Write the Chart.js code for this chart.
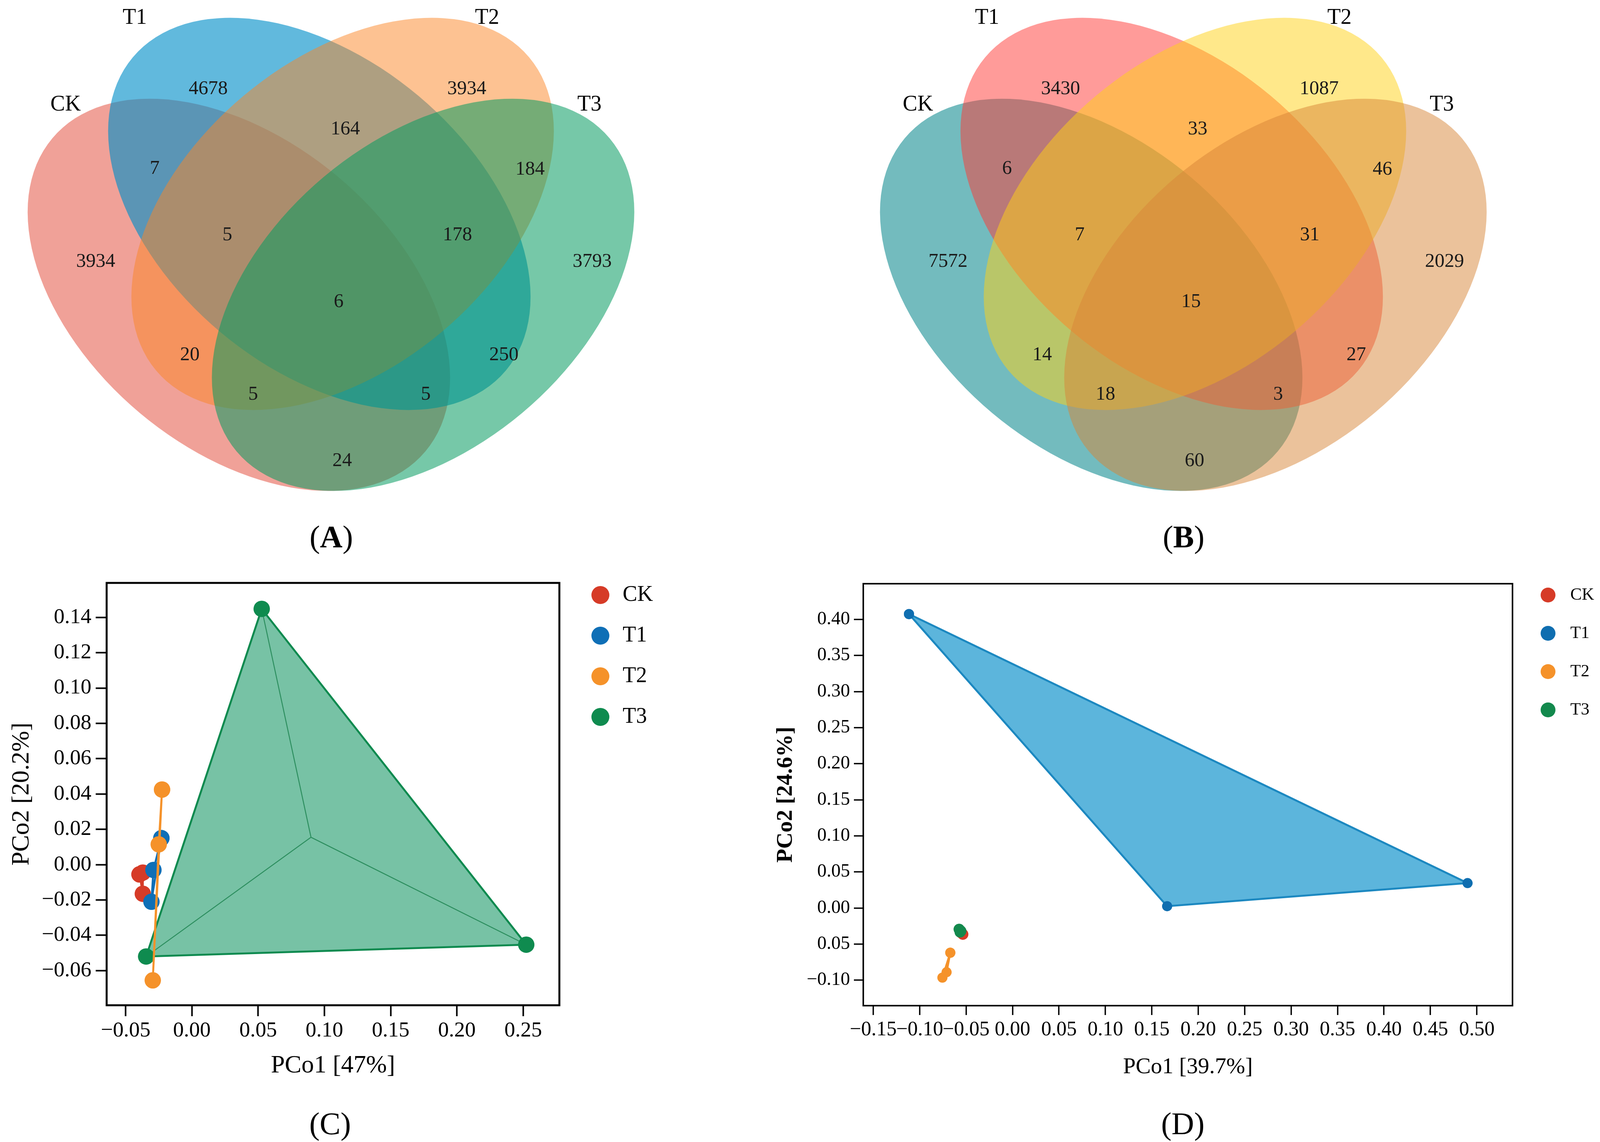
<!DOCTYPE html>
<html>
<head>
<meta charset="utf-8">
<script src="https://cdn.jsdelivr.net/npm/chart.js@4.4.1/dist/chart.umd.min.js"></script>
<style>
html,body{margin:0;padding:0;background:#fff;}
#page{position:relative;width:4100px;height:2923px;overflow:hidden;background:#fff;}
canvas{position:absolute;}
.lab{position:absolute;font-family:'Liberation Serif','Times New Roman',serif;font-size:80px;line-height:1;transform:translate(-50%,-50%);white-space:nowrap;color:#000;}
</style>
</head>
<body>
<div id="page">
  <canvas id="vennA" width="1720" height="1300" style="left:0px;top:0px;width:1720px;height:1300px"></canvas>
  <canvas id="vennB" width="1720" height="1300" style="left:2182px;top:0px;width:1720px;height:1300px"></canvas>
  <canvas id="pcoaC" width="1750" height="1400" style="left:0px;top:1400px;width:1750px;height:1400px"></canvas>
  <canvas id="pcoaD" width="2150" height="1400" style="left:1950px;top:1400px;width:2150px;height:1400px"></canvas>
  <div class="lab" style="left:848px;top:1374px">(<b>A</b>)</div>
  <div class="lab" style="left:3030px;top:1374px">(<b>B</b>)</div>
  <div class="lab" style="left:845px;top:2876px">(C)</div>
  <div class="lab" style="left:3028px;top:2876px">(D)</div>
</div>
<script>
// ---------------- DATA ----------------
const SET_NAMES = ['CK', 'T1', 'T2', 'T3'];
// Venn regions: CK, T1, T2, T3, CK∩T1, T1∩T2, T2∩T3, CK∩T1∩T2, T1∩T2∩T3, all four,
//               CK∩T2, T1∩T3, CK∩T2∩T3, CK∩T1∩T3, CK∩T3
const vennValuesA = [3934, 4678, 3934, 3793, 7, 164, 184, 5, 178, 6, 20, 250, 5, 5, 24];
const vennValuesB = [7572, 3430, 1087, 2029, 6, 33, 46, 7, 31, 15, 14, 27, 18, 3, 60];

// PCoA (C)
const cCK = [[-0.0395, -0.0055], [-0.037, -0.0045], [-0.037, -0.0165]];
const cT1 = [[-0.023, 0.015], [-0.029, -0.003], [-0.0305, -0.021]];
const cT2 = [[-0.0225, 0.0425], [-0.025, 0.0115], [-0.0295, -0.0655]];
const cT3 = [[0.0527, 0.1448], [0.2523, -0.0453], [-0.0345, -0.052]];
const cT3Centre = [0.0899, 0.0155];
const cXTicks = [-0.05, 0, 0.05, 0.10, 0.15, 0.20, 0.25];
const cXLabels = ['\u22120.05', '0.00', '0.05', '0.10', '0.15', '0.20', '0.25'];
const cYTicks = [-0.06, -0.04, -0.02, 0, 0.02, 0.04, 0.06, 0.08, 0.10, 0.12, 0.14];
const cYLabels = ['\u22120.06', '\u22120.04', '\u22120.02', '0.00', '0.02', '0.04', '0.06', '0.08', '0.10', '0.12', '0.14'];

// PCoA (D)
const dCK = [[-0.0535, -0.0365], [-0.0555, -0.0345], [-0.0545, -0.035]];
const dT1 = [[-0.1115, 0.4075], [0.1665, 0.0025], [0.49, 0.0345]];
const dT2 = [[-0.067, -0.062], [-0.071, -0.089], [-0.0755, -0.0965]];
const dT3 = [[-0.0575, -0.0295], [-0.0565, -0.0335], [-0.0555, -0.032]];
const dXTicks = [-0.15, -0.10, -0.05, 0, 0.05, 0.10, 0.15, 0.20, 0.25, 0.30, 0.35, 0.40, 0.45, 0.50];
const dXLabels = ['\u22120.15', '\u22120.10', '\u22120.05', '0.00', '0.05', '0.10', '0.15', '0.20', '0.25', '0.30', '0.35', '0.40', '0.45', '0.50'];
const dYTicks = [-0.10, -0.05, 0, 0.05, 0.10, 0.15, 0.20, 0.25, 0.30, 0.35, 0.40];
const dYLabels = ['\u22120.10', '0.05', '0.00', '0.05', '0.10', '0.15', '0.20', '0.25', '0.30', '0.35', '0.40'];

// ---------------- LAYOUT / STYLE ----------------
const SERIF = "'Liberation Serif', 'Times New Roman', serif";
const VENN_W = 1720, VENN_H = 1300;
const ELL_CX = [611.5, 817.5, 877.1, 1083.1];
const ELL_CY = [754.6, 547.5, 547.5, 754.6];
const ELL_A = 623.4, ELL_B = 394.6;
const ELL_ROT = [40, 40, -40, -40];
const REGION_POS = [[245, 670], [533, 228], [1195, 228], [1516, 670], [396, 432], [884, 331], [1357, 434],
  [582, 602], [1171, 602], [867, 773], [486, 909], [1290, 909], [648, 1010], [1090, 1010], [876, 1180]];
const SET_LABEL_POS = [[168, 268], [345, 46], [1247, 46], [1509, 268]];
const vennColorsA = ['rgb(225,67,49)', 'rgb(0,142,200)', 'rgb(251,133,37)', 'rgb(6,155,97)'];
const vennAlphaA = [0.5, 0.62, 0.5, 0.55];
const vennColorsB = ['rgb(0,131,137)', 'rgb(255,55,51)', 'rgb(255,209,21)', 'rgb(215,133,55)'];
const vennAlphaB = [0.55, 0.5, 0.5, 0.5];
const GROUP_COL = ['#D63B27', '#0F6FB6', '#F5922A', '#0F8B4F'];

Chart.defaults.font.family = SERIF;
Chart.defaults.color = '#000';

const pts = arr => arr.map(([x, y]) => ({x, y}));
const closed = arr => pts(arr.concat([arr[0]]));

// ---------------- PLUGINS ----------------
const vennPlugin = {
  id: 'venn',
  beforeDatasetsDraw(chart, args, o) {
    const {ctx} = chart;
    const xs = chart.scales.x, ys = chart.scales.y;
    ctx.save();
    for (let i = 0; i < 4; i++) {
      const px = xs.getPixelForValue(ELL_CX[i]);
      const py = ys.getPixelForValue(ELL_CY[i]);
      const rx = Math.abs(xs.getPixelForValue(ELL_CX[i] + ELL_A) - px);
      const ry = Math.abs(ys.getPixelForValue(ELL_CY[i] + ELL_B) - py);
      ctx.beginPath();
      ctx.ellipse(px, py, rx, ry, ELL_ROT[i] * Math.PI / 180, 0, Math.PI * 2);
      ctx.globalAlpha = o.alpha[i];
      ctx.fillStyle = o.colors[i];
      ctx.fill();
    }
    ctx.restore();
  },
  afterDatasetsDraw(chart, args, o) {
    const {ctx} = chart;
    ctx.save();
    ctx.fillStyle = '#1a1a1a';
    ctx.textAlign = 'center';
    ctx.textBaseline = 'middle';
    ctx.font = `50px ${SERIF}`;
    chart.getDatasetMeta(0).data.forEach((p, i) => ctx.fillText(String(o.values[i]), p.x, p.y));
    ctx.fillStyle = '#000';
    ctx.font = `56px ${SERIF}`;
    chart.getDatasetMeta(1).data.forEach((p, i) => ctx.fillText(SET_NAMES[i], p.x, p.y));
    ctx.restore();
  }
};

const framePlugin = {
  id: 'frame',
  afterDraw(chart, args, o) {
    const {ctx, chartArea: a} = chart;
    ctx.save();
    ctx.strokeStyle = '#000';
    ctx.lineWidth = o.width;
    ctx.strokeRect(a.left, a.top, a.right - a.left, a.bottom - a.top);
    ctx.restore();
  }
};

const legendPlugin = {
  id: 'sideLegend',
  afterDraw(chart, args, o) {
    const {ctx, chartArea: a} = chart;
    ctx.save();
    ctx.font = `${o.fontSize}px ${SERIF}`;
    ctx.textAlign = 'left';
    ctx.textBaseline = 'middle';
    SET_NAMES.forEach((n, i) => {
      const cy = a.top + o.y0 + i * o.step;
      ctx.beginPath();
      ctx.arc(a.right + o.dx, cy, o.r, 0, Math.PI * 2);
      ctx.fillStyle = o.colors[i];
      ctx.fill();
      ctx.fillStyle = '#000';
      ctx.fillText(n, a.right + o.tx, cy);
    });
    ctx.restore();
  }
};

// ---------------- VENN CHARTS ----------------
function vennChart(id, values, colors, alpha) {
  return new Chart(document.getElementById(id), {
    type: 'scatter',
    data: {
      datasets: [
        {data: pts(REGION_POS), pointRadius: 0, showLine: false},
        {data: pts(SET_LABEL_POS), pointRadius: 0, showLine: false}
      ]
    },
    options: {
      responsive: false, animation: false, devicePixelRatio: 1, events: [],
      layout: {padding: 0},
      scales: {
        x: {type: 'linear', min: 0, max: VENN_W, display: false},
        y: {type: 'linear', min: 0, max: VENN_H, reverse: true, display: false}
      },
      plugins: {
        legend: {display: false}, tooltip: {enabled: false},
        venn: {values, colors, alpha}
      }
    },
    plugins: [vennPlugin]
  });
}
vennChart('vennA', vennValuesA, vennColorsA, vennAlphaA);
vennChart('vennB', vennValuesB, vennColorsB, vennAlphaB);

// ---------------- PCoA CHARTS ----------------
function axis(c) {
  return {
    type: 'linear', position: c.pos, min: c.min, max: c.max,
    afterBuildTicks: s => { s.ticks = c.ticks.map(v => ({value: v})); },
    afterFit: s => { if (c.pos === 'left') s.width = c.size; else s.height = c.size; },
    ticks: {
      callback: (v, i) => c.labels[i],
      font: {family: SERIF, size: c.tickFont}, color: '#000',
      padding: c.tickPad, autoSkip: false, maxRotation: 0, minRotation: 0, includeBounds: false
    },
    grid: {display: true, drawOnChartArea: false, drawTicks: true, tickLength: c.tickLen,
      tickWidth: c.tickW, tickColor: '#000', color: '#000'},
    border: {display: false},
    title: {display: true, text: c.title, font: {family: SERIF, size: c.titleFont, weight: c.titleWeight || 'normal'},
      color: '#000', padding: c.titlePad}
  };
}

function lineSet(arr, col, order, r, bw) {
  return {data: closed(arr), showLine: true, fill: false, borderColor: col, borderWidth: bw,
    pointRadius: r, pointBackgroundColor: col, pointBorderWidth: 0, order, tension: 0};
}

new Chart(document.getElementById('pcoaC'), {
  type: 'scatter',
  data: {
    datasets: [
      lineSet(cT2, GROUP_COL[2], 1, 21, 5),
      lineSet(cT1, GROUP_COL[1], 2, 21, 5),
      lineSet(cCK, GROUP_COL[0], 3, 21, 5),
      {data: pts(cT3), showLine: false, pointRadius: 21, pointBackgroundColor: GROUP_COL[3], pointBorderWidth: 0, order: 4},
      {data: pts([cT3[0], cT3Centre, cT3[1], cT3Centre, cT3[2]]), showLine: true, fill: false,
        borderColor: '#2E8F60', borderWidth: 2.5, pointRadius: 0, order: 5},
      {data: closed(cT3), showLine: true, fill: 'shape', backgroundColor: 'rgba(20,150,100,0.58)',
        borderColor: '#0E8A4F', borderWidth: 5, pointRadius: 0, order: 6}
    ]
  },
  options: {
    responsive: false, animation: false, devicePixelRatio: 1, events: [],
    layout: {padding: {top: 92, right: 318, left: 0, bottom: 0}},
    scales: {
      x: axis({pos: 'bottom', min: -0.0643, max: 0.2773, ticks: cXTicks, labels: cXLabels, size: 227,
        tickFont: 55, tickPad: 5, tickLen: 28, tickW: 4, title: 'PCo1 [47%]', titleFont: 64,
        titlePad: {top: 0, bottom: 33}}),
      y: axis({pos: 'left', min: -0.0796, max: 0.1595, ticks: cYTicks, labels: cYLabels, size: 273,
        tickFont: 55, tickPad: 11, tickLen: 28, tickW: 4, title: 'PCo2 [20.2%]', titleFont: 64,
        titlePad: {top: 18, bottom: 0}})
    },
    plugins: {
      legend: {display: false}, tooltip: {enabled: false},
      frame: {width: 5},
      sideLegend: {colors: GROUP_COL, dx: 105, tx: 162, y0: 31, step: 104, r: 23, fontSize: 56}
    }
  },
  plugins: [framePlugin, legendPlugin]
});

const D_COL = ['#D63B27', '#0F6EB0', '#F5922A', '#13894D'];
new Chart(document.getElementById('pcoaD'), {
  type: 'scatter',
  data: {
    datasets: [
      lineSet(dT3, D_COL[3], 1, 14, 4),
      lineSet(dCK, D_COL[0], 2, 14, 4),
      lineSet(dT2, D_COL[2], 3, 13, 5),
      {data: closed(dT1), showLine: true, fill: 'shape', backgroundColor: 'rgba(0,140,200,0.64)',
        borderColor: '#1C88C0', borderWidth: 5, pointRadius: 13, pointBackgroundColor: D_COL[1],
        pointBorderWidth: 0, order: 4, tension: 0}
    ]
  },
  options: {
    responsive: false, animation: false, devicePixelRatio: 1, events: [],
    layout: {padding: {top: 94, right: 228, left: 0, bottom: 0}},
    scales: {
      x: axis({pos: 'bottom', min: -0.1607, max: 0.5384, ticks: dXTicks, labels: dXLabels, size: 226,
        tickFont: 52, tickPad: 7, tickLen: 24, tickW: 3.5, title: 'PCo1 [39.7%]', titleFont: 58,
        titlePad: {top: 0, bottom: 33}}),
      y: axis({pos: 'left', min: -0.1354, max: 0.4496, ticks: dYTicks, labels: dYLabels, size: 260,
        tickFont: 48, tickPad: 10, tickLen: 24, tickW: 3.5, title: 'PCo2 [24.6%]', titleFont: 58,
        titleWeight: 'bold', titlePad: {top: 27, bottom: 0}})
    },
    plugins: {
      legend: {display: false}, tooltip: {enabled: false},
      frame: {width: 4},
      sideLegend: {colors: D_COL, dx: 91, tx: 148, y0: 29, step: 98, r: 19, fontSize: 44}
    }
  },
  plugins: [framePlugin, legendPlugin]
});
</script>
</body>
</html>
